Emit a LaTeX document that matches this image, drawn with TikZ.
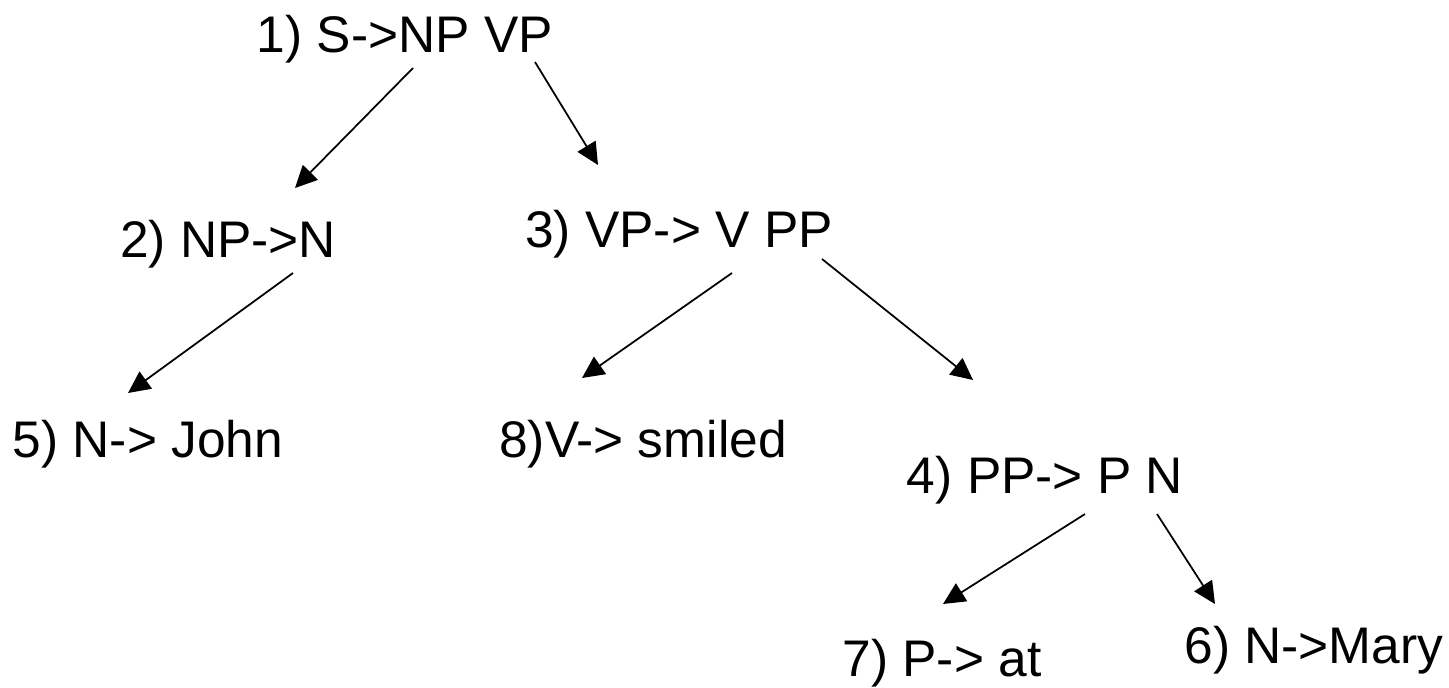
\documentclass[tikz,border=0pt]{standalone}
\usepackage{fontspec}
\setmainfont{Liberation Sans}
\usetikzlibrary{arrows.meta}

\tikzset{
  rule/.style={anchor=base, inner sep=0pt, font=\fontsize{29.3}{35}\selectfont},
  arr/.style={-{Triangle[length=0.44cm, width=0.42cm]}, line width=0.035cm}
}

\begin{document}
\begin{tikzpicture}[x=0.02cm, y=-0.02cm]
            \useasboundingbox (0,0) rectangle (1449,687);

            % Regole
            \node[rule] (s) at (405,52) {1) S->NP VP};
            \node[rule] (np) at (228,257) {2) NP->N};
            \node[rule] (vp) at (679,247) {3) VP-> V PP};
            \node[rule] (pp) at (1045,493) {4) PP-> P N};
            \node[rule] (john) at (148,457) {5) N-> John};
            \node[rule] (mary) at (1314,663) {6) N->Mary};
            \node[rule] (at) at (942,676) {7) P-> at};
            \node[rule] (smiled) at (643,457) {8)V-> smiled};

            % Frecce
            \draw[arr] ([shift={(8,16)}]s.base) -- ([shift={(67,-69)}]np.base);
            \draw[arr] ([shift={(130,10)}]s.base) -- ([shift={(-81,-82)}]vp.base);
            \draw[arr] ([shift={(65,16)}]np.base) -- ([shift={(-20,-64)}]john.base);
            \draw[arr] ([shift={(53,26)}]vp.base) -- ([shift={(-61,-79)}]smiled.base);
            \draw[arr] ([shift={(143,12)}]vp.base) -- ([shift={(-72,-113)}]pp.base);
            \draw[arr] ([shift={(40,21)}]pp.base) -- ([shift={(1,-72)}]at.base);
            \draw[arr] ([shift={(112,21)}]pp.base) -- ([shift={(-99,-59)}]mary.base);
        \end{tikzpicture}
\end{document}
